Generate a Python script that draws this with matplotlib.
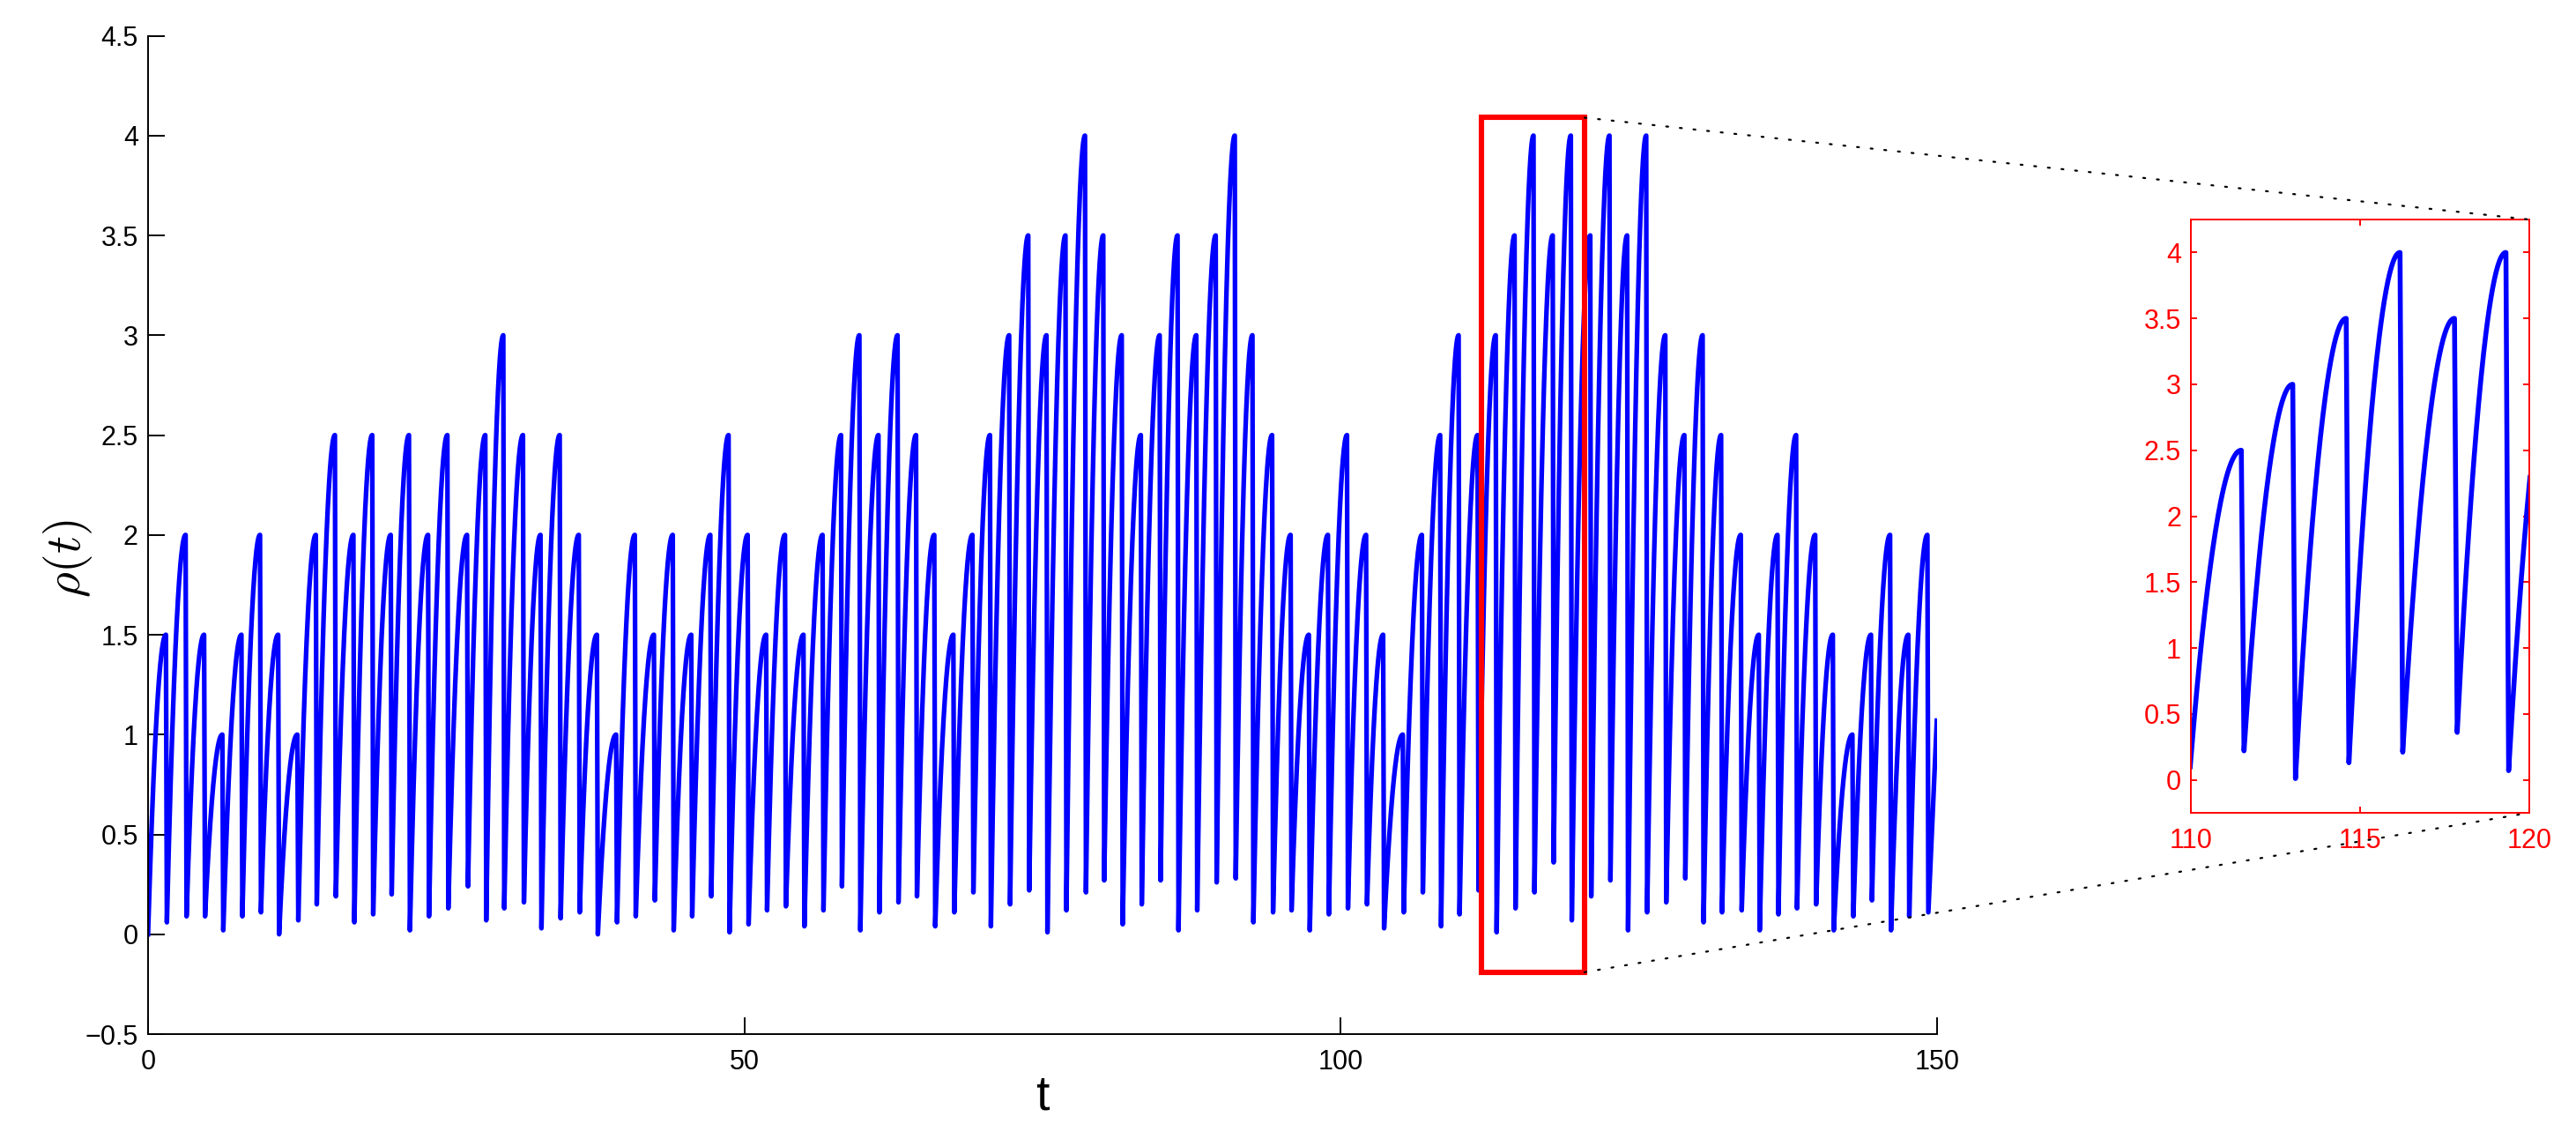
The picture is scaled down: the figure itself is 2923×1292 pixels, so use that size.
import numpy as np
import matplotlib.pyplot as plt
from matplotlib.patches import Rectangle, ConnectionPatch

plt.rcParams['font.family'] = ['Liberation Sans', 'DejaVu Sans']
plt.rcParams['mathtext.fontset'] = 'cm'

# each cycle: slow rise up to a peak, then a sharp drop to a low value
peak_t = [1.50, 3.15, 4.70, 6.23, 7.83, 9.39, 10.91, 12.52, 14.07, 15.67,
          17.22, 18.80, 20.35, 21.88, 23.48, 25.10, 26.75, 28.28, 29.79, 31.44,
          32.91, 34.52, 36.12, 37.64, 39.25, 40.82, 42.42, 44.00, 45.55, 47.15,
          48.68, 50.28, 51.83, 53.41, 54.96, 56.56, 58.11, 59.65, 61.25, 62.85,
          64.40, 65.93, 67.53, 69.13, 70.60, 72.21, 73.81, 75.34, 76.93, 78.57,
          80.10, 81.65, 83.25, 84.83, 86.33, 87.90, 89.53, 91.13, 92.61, 94.26,
          95.81, 97.34, 98.94, 100.54, 102.14, 103.57, 105.22, 106.82, 108.35, 109.90,
          111.49, 113.01, 114.59, 116.18, 117.79, 119.31, 120.94, 122.55, 124.03, 125.63,
          127.23, 128.83, 130.36, 131.91, 133.56, 135.07, 136.64, 138.20, 139.80, 141.28,
          142.92, 144.48, 146.08, 147.61, 149.21]
peak_v = [1.5, 2, 1.5, 1, 1.5, 2, 1.5, 1, 2, 2.5,
          2, 2.5, 2, 2.5, 2, 2.5, 2, 2.5, 3, 2.5,
          2, 2.5, 2, 1.5, 1, 2, 1.5, 2, 1.5, 2,
          2.5, 2, 1.5, 2, 1.5, 2, 2.5, 3, 2.5, 3,
          2.5, 2, 1.5, 2, 2.5, 3, 3.5, 3, 3.5, 4,
          3.5, 3, 2.5, 3, 3.5, 3, 3.5, 4, 3, 2.5,
          2, 1.5, 2, 2.5, 2, 1.5, 1, 2, 2.5, 3,
          2.5, 3, 3.5, 4, 3.5, 4, 3.5, 4, 3.5, 4,
          3, 2.5, 3, 2.5, 2, 1.5, 2, 2.5, 2, 1.5,
          1, 1.5, 2, 1.5, 2]
trough_v = [0.06, 0.09, 0.09, 0.02, 0.09, 0.11, 0.00, 0.07, 0.15, 0.19,
            0.06, 0.10, 0.20, 0.02, 0.09, 0.13, 0.24, 0.07, 0.13, 0.16,
            0.03, 0.08, 0.11, 0.00, 0.06, 0.09, 0.17, 0.02, 0.09, 0.19,
            0.01, 0.05, 0.12, 0.14, 0.04, 0.12, 0.24, 0.02, 0.11, 0.16,
            0.19, 0.04, 0.11, 0.21, 0.04, 0.15, 0.22, 0.01, 0.12, 0.21,
            0.27, 0.05, 0.15, 0.27, 0.02, 0.12, 0.26, 0.28, 0.06, 0.11,
            0.12, 0.02, 0.10, 0.13, 0.15, 0.03, 0.11, 0.21, 0.04, 0.10,
            0.22, 0.01, 0.13, 0.21, 0.36, 0.07, 0.19, 0.27, 0.02, 0.11,
            0.16, 0.28, 0.06, 0.11, 0.12, 0.02, 0.10, 0.13, 0.15, 0.02,
            0.09, 0.17, 0.02, 0.09, 0.11]
start_t, start_v = 0.0, 0.0
end_t, end_v = 150.0, 1.07
drop_len = 0.08

# build the curve, concave rise between trough and next peak
t_parts, r_parts = [], []
t0, v0 = start_t, start_v
for tp, vp, vt in zip(peak_t, peak_v, trough_v):
    s = np.linspace(0, 1, 60)
    t_parts.append(t0 + (tp - t0) * s)
    r_parts.append(v0 + (vp - v0) * (1 - (1 - s) ** 2))
    t0, v0 = tp + drop_len, vt
s = np.linspace(0, 1, 20)
t_parts.append(t0 + (end_t - t0) * s)
r_parts.append(v0 + (end_v - v0) * s)
t = np.concatenate(t_parts)
rho = np.concatenate(r_parts)


def fmt(v, pos=None):
    return f'{v:g}'.replace('-', '\u2212')


fig = plt.figure(figsize=(14.615, 6.46), dpi=200)

# main axes
ax = fig.add_axes([0.05747, 0.0921, 0.6944, 0.8765])
ax.plot(t, rho, color='b', lw=1.9)
ax.set_xlim(0, 150)
ax.set_ylim(-0.5, 4.5)
ax.set_xticks([0, 50, 100, 150])
ax.set_yticks(np.arange(-0.5, 4.51, 0.5))
ax.yaxis.set_major_formatter(plt.FuncFormatter(fmt))
ax.spines['top'].set_visible(False)
ax.spines['right'].set_visible(False)
for sp in ax.spines.values():
    sp.set_linewidth(0.7)
ax.tick_params(direction='in', length=7, width=0.7, labelsize=11)
ax.tick_params(axis='y', pad=4)
ax.tick_params(axis='x', pad=6)
ax.set_xlabel('t', fontsize=20)
ax.xaxis.set_label_coords(0.5, -0.04)
fig.text(77 / 2923, 1 - 634 / 1292, r'$\rho(t)$', fontsize=20,
         rotation=90, ha='center', va='center')

# zoom box
ax.add_patch(Rectangle((111.8, -0.19), 8.65, 4.28, fill=False, ec='r',
                       lw=2.2, clip_on=False, zorder=3))

# inset
axins = fig.add_axes([2486 / 2923, 1 - 922 / 1292, 384 / 2923, 673 / 1292])
axins.plot(t, rho, color='b', lw=2.0)
axins.set_xlim(110, 120)
axins.set_ylim(-0.25, 4.25)
axins.set_xticks([110, 115, 120])
axins.set_yticks(np.arange(0, 4.01, 0.5))
axins.yaxis.set_major_formatter(plt.FuncFormatter(fmt))
for sp in axins.spines.values():
    sp.set_color('r')
    sp.set_linewidth(0.7)
axins.tick_params(direction='in', length=2.5, width=0.7, colors='r',
                  labelsize=11, top=True, right=True)
axins.tick_params(axis='y', pad=4)
axins.tick_params(axis='x', pad=6)

# dotted connectors
for ya, yb in [(4.09, 1), (-0.19, 0)]:
    con = ConnectionPatch(xyA=(120.45, ya), coordsA=ax.transData,
                          xyB=(1, yb), coordsB=axins.transAxes,
                          color='k', lw=0.8, ls=(0, (1, 6)))
    fig.add_artist(con)

fig.savefig('out.png', dpi=200)
